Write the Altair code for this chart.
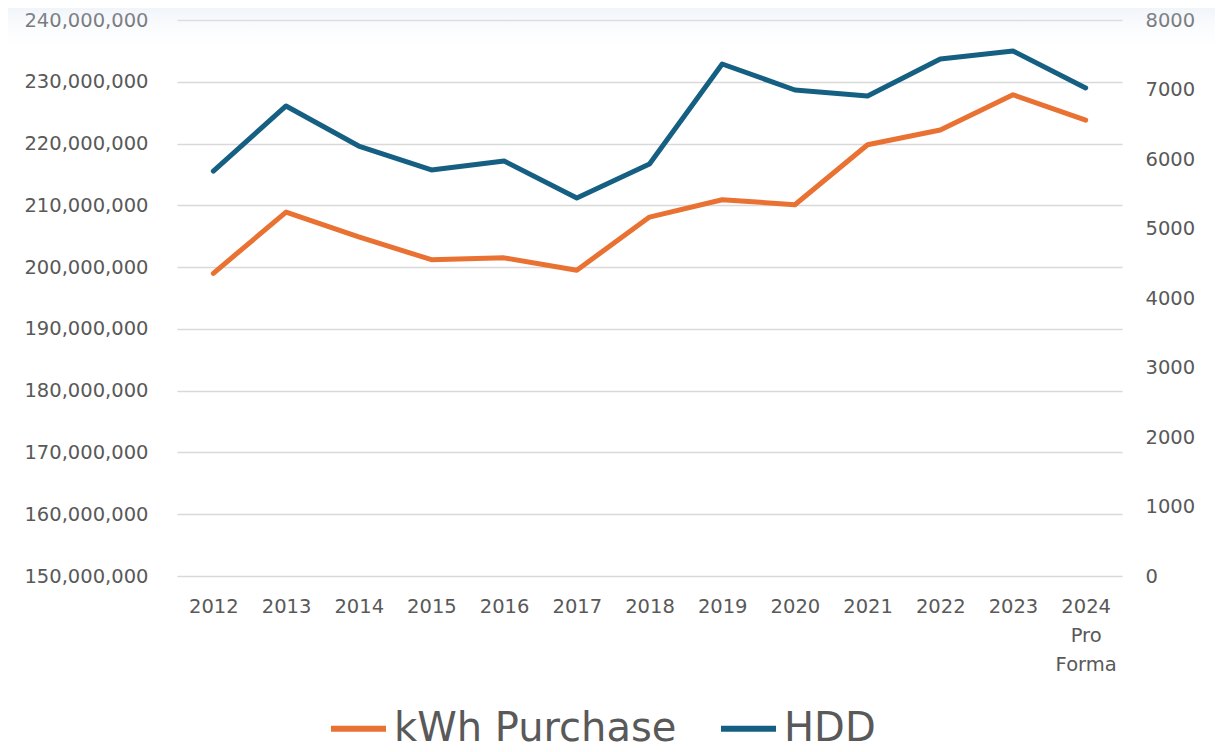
import altair as alt
import pandas as pd

years = ["2012", "2013", "2014", "2015", "2016", "2017", "2018", "2019",
         "2020", "2021", "2022", "2023", "2024|Pro|Forma"]
kwh = [199.0e6, 208.9e6, 204.9e6, 201.2e6, 201.5e6, 199.5e6, 208.1e6,
       210.9e6, 210.1e6, 219.8e6, 222.2e6, 227.9e6, 223.8e6]
hdd = [5827, 6763, 6187, 5842, 5971, 5439, 5928, 7367, 6993, 6907,
       7439, 7554, 7022]
series_names = ["kWh Purchase", "HDD"]
series_colors = ["#E97132", "#156082"]
left_ticks = [150e6 + i * 10e6 for i in range(10)]
right_ticks = [i * 1000 for i in range(9)]

FONT = "DejaVu Sans"
LABEL = "#595959"
FS = 19.5

df_k = pd.DataFrame({"year": years, "value": kwh, "series": series_names[0]})
df_h = pd.DataFrame({"year": years, "value": hdd, "series": series_names[1]})

x_enc = alt.X(
    "year:N", sort=years, title=None,
    scale=alt.Scale(type="point", padding=0.5),
    axis=alt.Axis(labelExpr="split(datum.label, '|')", labelAngle=0,
                  labelFontSize=FS, labelColor=LABEL, labelFont=FONT,
                  labelPadding=21, labelLineHeight=29, ticks=False,
                  domain=False, grid=False),
)

color_enc = alt.Color(
    "series:N", title=None,
    scale=alt.Scale(domain=series_names, range=series_colors),
    legend=alt.Legend(orient="none", legendX=151, legendY=678,
                      direction="horizontal", symbolType="stroke",
                      symbolSize=3025, symbolStrokeWidth=6,
                      labelFontSize=40, labelFont=FONT, labelColor=LABEL,
                      labelOffset=5, columnPadding=32, padding=0,
                      labelLimit=600),
)

bg = alt.Chart(pd.DataFrame({"a": [0]})).mark_rect().encode(
    x=alt.value(-169), x2=alt.value(1114),
    y=alt.value(-12), y2=alt.value(36),
    color=alt.value({"gradient": "linear", "x1": 0, "y1": 0, "x2": 0, "y2": 1,
                     "stops": [{"offset": 0, "color": "rgba(214,226,242,0.35)"},
                               {"offset": 1, "color": "rgba(255,255,255,0)"}]}),
)

left = alt.Chart(df_k).mark_line(strokeWidth=5, strokeCap="round",
                                  strokeJoin="round").encode(
    x=x_enc,
    y=alt.Y("value:Q", title=None,
            scale=alt.Scale(domain=[150e6, 240e6], nice=False, zero=False),
            axis=alt.Axis(values=left_ticks, format=",d", orient="left",
                          labelFontSize=FS, labelColor=LABEL, labelFont=FONT,
                          labelPadding=29, ticks=False, domain=False,
                          grid=True, gridColor="#d9d9d9", gridWidth=1.5)),
    color=color_enc,
)

right = alt.Chart(df_h).mark_line(strokeWidth=5, strokeCap="round",
                                   strokeJoin="round").encode(
    x=x_enc,
    y=alt.Y("value:Q", title=None,
            scale=alt.Scale(domain=[0, 8000], nice=False),
            axis=alt.Axis(values=right_ticks, format="d", orient="right",
                          labelFontSize=FS, labelColor=LABEL, labelFont=FONT,
                          labelPadding=23, ticks=False, domain=False,
                          grid=False)),
    color=color_enc,
)

chart = alt.layer(bg, left, right).resolve_scale(y="independent").properties(
    width=945, height=556,
    autosize=alt.AutoSizeParams(type="none"),
    padding={"left": 169, "top": 12, "right": 93, "bottom": 168},
    background="white",
).configure_view(stroke=None)

chart.save("out.html", embed_options={"renderer": "svg", "actions": False})
